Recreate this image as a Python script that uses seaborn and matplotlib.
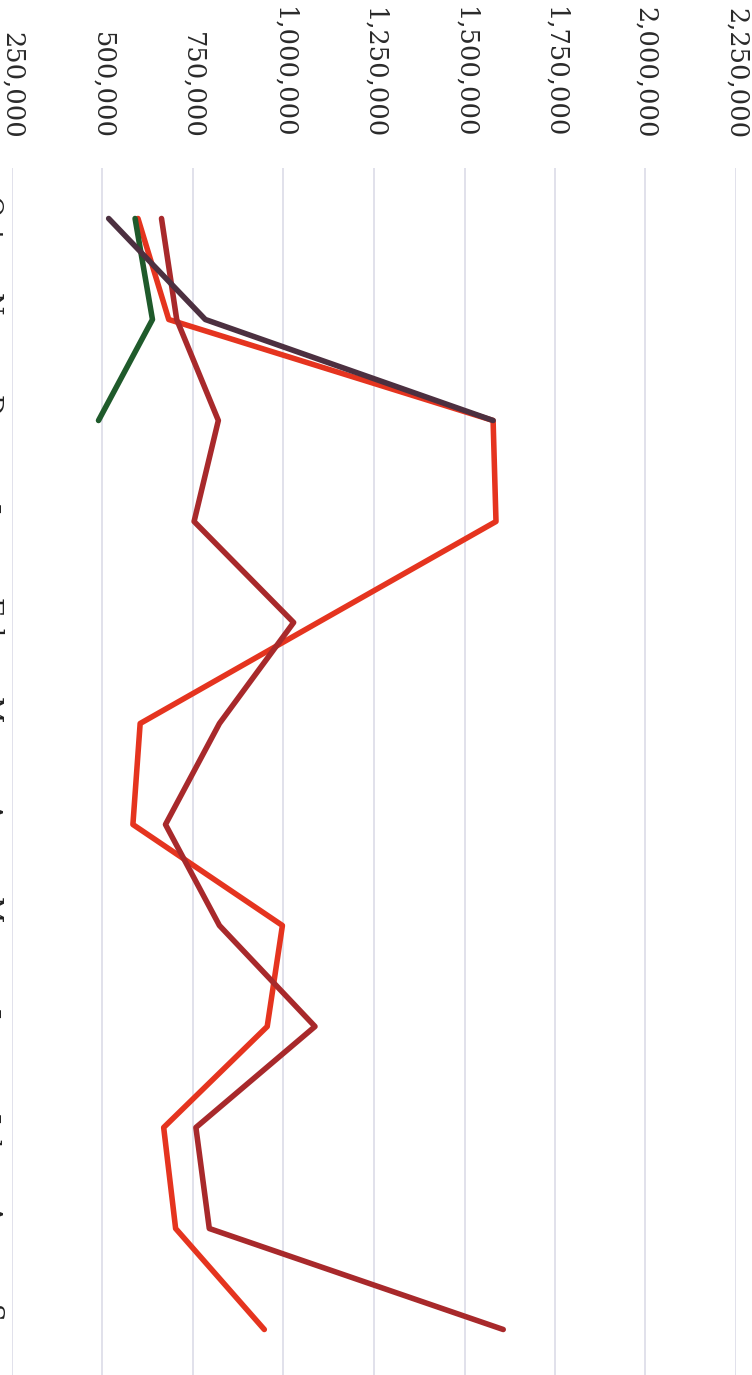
import numpy as np
import pandas as pd
import seaborn as sns
import matplotlib.pyplot as plt
from matplotlib.ticker import FuncFormatter, MultipleLocator

months = ['Oct', 'Nov', 'Dec', 'Jan', 'Feb', 'Mar', 'Apr', 'May', 'Jun', 'Jul', 'Aug', 'Sep']

# values (NaN = no data)
plum = [517000, 784000, 1579000] + [np.nan] * 9
green = [590000, 638000, 489000] + [np.nan] * 9
red = [598000, 683000, 1579000, 1587000, 1095000, 604000, 584000, 997000, 955000, 669000, 702000, 947000]
dark_red = [663000, 705000, 820000, 753000, 1028000, 823000, 674000, 823000, 1087000, 758000, 795000, 1607000]

series = {'Red': red, 'Dark red': dark_red, 'Green': green, 'Plum': plum}
palette = {'Red': '#e5341f', 'Dark red': '#a8292b', 'Green': '#1f5a2b', 'Plum': '#4c3040'}

rows = []
for name, vals in series.items():
    for i, v in enumerate(vals):
        rows.append({'series': name, 'pos': i, 'value': v})
df = pd.DataFrame(rows).dropna()

sns.set_style('white')
plt.rcParams['font.family'] = ['DejaVu Serif', 'DejaVu Sans']

fig = plt.figure(figsize=(7.52, 13.75), dpi=100)
ax = fig.add_axes([12 / 752, -5 / 1375, 724 / 752, 1212 / 1375])

sns.lineplot(data=df, x='value', y='pos', hue='series', hue_order=list(series.keys()),
             palette=palette, orient='y', sort=False, estimator=None, linewidth=4,
             solid_capstyle='round', legend=False, ax=ax)

ax.set_xlim(250000, 2250000)
ax.set_ylim(len(months) - 0.5, -0.5)
ax.xaxis.set_major_locator(MultipleLocator(250000))
ax.xaxis.set_major_formatter(FuncFormatter(lambda v, p: f'{int(v):,}'))
ax.xaxis.tick_top()
ax.tick_params(axis='x', length=0, pad=21, labelsize=18.5, labelrotation=-90, colors='#2a2a2a')
ax.grid(axis='x', color='#dcdce8', linewidth=1.2)
ax.grid(axis='y', visible=False)

# month labels sit mostly beyond the left edge, as in the reference
ax.set_yticks(range(len(months)))
ax.set_yticklabels(months, rotation=-90, va='center')
ax.set_yticks(np.arange(-0.5, len(months), 1), minor=True)
ax.tick_params(axis='y', which='major', length=0, pad=6.5, labelsize=18.5, colors='#222222')
ax.tick_params(axis='y', which='minor', length=9, width=1, color='#dcdce8', direction='out')

for lab in ax.get_xticklabels() + ax.get_yticklabels():
    lab.set_fontfamily(['DejaVu Serif', 'DejaVu Sans'])

for s in ax.spines.values():
    s.set_visible(False)
ax.set_xlabel('')
ax.set_ylabel('')

fig.savefig('out.png', dpi=100)
